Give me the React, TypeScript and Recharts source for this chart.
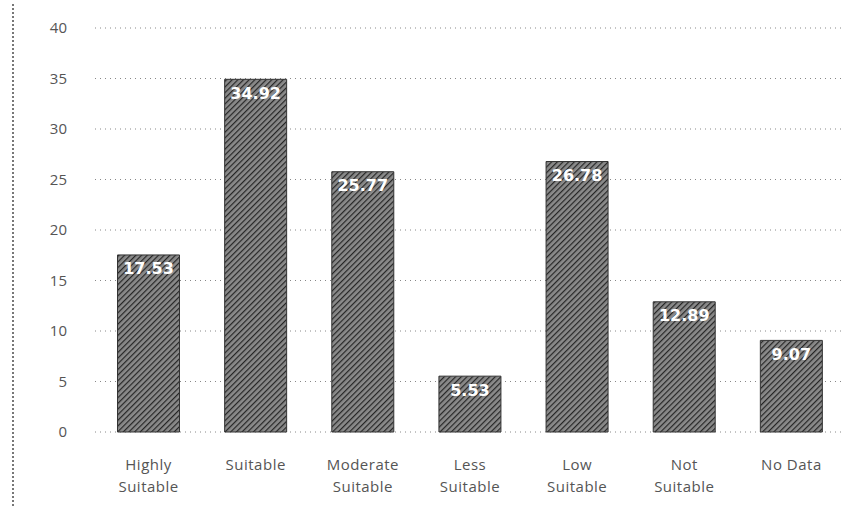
import React from "react";
import { BarChart, Bar, XAxis, YAxis, CartesianGrid, LabelList } from "recharts";

const categories = ["Highly\nSuitable", "Suitable", "Moderate\nSuitable", "Less\nSuitable", "Low\nSuitable", "Not\nSuitable", "No Data"];
const values = [17.53, 34.92, 25.77, 5.53, 26.78, 12.89, 9.07];
const yTicks = [0, 5, 10, 15, 20, 25, 30, 35, 40];

const data = categories.map((c, i) => ({ name: c, value: values[i] }));

const XTick = (props: any) => {
  const { x, y, payload } = props;
  const lines = String(payload.value).split("\n");
  return (
    <text x={x} y={y} textAnchor="middle" fill="#555" fontSize={15} letterSpacing={0.5} fontFamily="'Open Sans', sans-serif">
      {lines.map((l: string, i: number) => (
        <tspan key={i} x={x} dy={i === 0 ? 30 : 22}>{l}</tspan>
      ))}
    </text>
  );
};

export default function App() {
  return (
    <div style={{ position: "absolute", left: 0, top: 0, width: 860, height: 520, background: "#fff" }}>
      <div style={{ position: "absolute", left: 12, top: 4, height: 502, borderLeft: "2px dotted #777" }} />
      <BarChart width={860} height={520} data={data} margin={{ top: 28, right: 15, left: 0, bottom: 0 }} barCategoryGap="21%">
        <defs>
          <pattern id="hatch" patternUnits="userSpaceOnUse" width="4" height="4" patternTransform="rotate(45)">
            <rect width="4" height="4" fill="#8a8a8a" />
            <line x1="0" y1="0" x2="0" y2="4" stroke="#262626" strokeWidth="2.4" />
          </pattern>
        </defs>
        <CartesianGrid vertical={false} stroke="#888" strokeDasharray="1 4" />
        <XAxis dataKey="name" axisLine={false} tickLine={false} interval={0} height={88} tick={<XTick />} />
        <YAxis
          domain={[0, 40]}
          ticks={yTicks}
          width={95}
          axisLine={false}
          tickLine={false}
          tickMargin={22}
          tick={{ fill: "#555", fontSize: 15, fontFamily: "'Open Sans', sans-serif" }}
        />
        <Bar dataKey="value" fill="url(#hatch)" stroke="#333" strokeWidth={1} isAnimationActive={false}>
          <LabelList dataKey="value" position="insideTop" offset={8} fill="#fff" fontSize={16} fontWeight="bold" fontFamily="'DejaVu Sans', sans-serif" />
        </Bar>
      </BarChart>
    </div>
  );
}
